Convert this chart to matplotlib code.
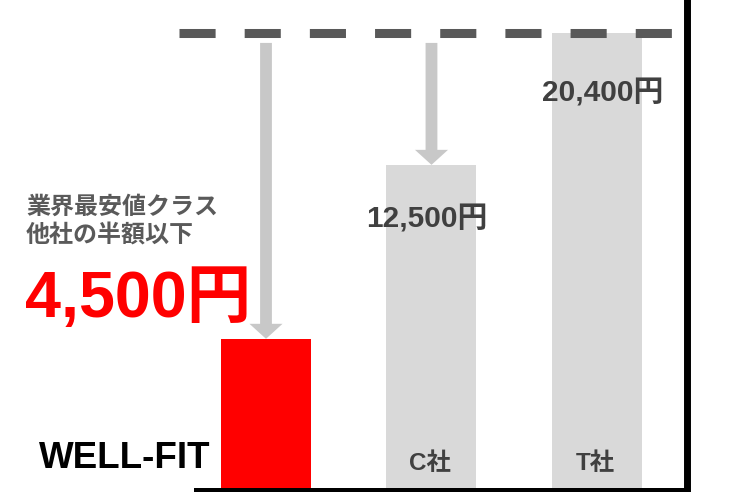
import matplotlib.pyplot as plt

# values (bars are drawn as % of the dashed reference line, not to price scale)
companies = ["WELL-FIT", "C社", "T社"]
price_labels = ["4,500円", "12,500円", "20,400円"]
bar_heights = [33.0, 71.1, 100.0]
reference_level = 100.0
arrow_to = [0, 1]  # bars that get an arrow from the reference line

latin_jp = ["Liberation Sans", "Noto Sans CJK JP"]
W, H = 736, 492

fig = plt.figure(figsize=(W / 100, H / 100), dpi=100)
ax = fig.add_axes([196 / W, (H - 489.5) / H, (686.5 - 196) / W, 489.5 / H])
ax.set_xlim(-0.423, 2.541)
ax.set_ylim(0, 107.2)

colors = ["#ff0000", "#d9d9d9", "#d9d9d9"]
x = list(range(len(companies)))
ax.bar(x, bar_heights, width=0.544, color=colors, zorder=1)

# dashed reference line (sticks out to the left of the axes)
ax.hlines(reference_level, -0.526, 2.46, colors="#595959", linewidth=6.5,
          linestyles=(0, (4.0, 3.22)), clip_on=False, zorder=4)

# arrows from the reference line down to the bar tops
for i in arrow_to:
    ax.annotate("", xy=(x[i], bar_heights[i]), xytext=(x[i], 97.8),
                arrowprops=dict(arrowstyle="simple,head_length=10.8,head_width=23.8,tail_width=8.5",
                                mutation_scale=1, color="#c8c8c8", lw=0,
                                shrinkA=0, shrinkB=0), zorder=3)

for s in ["left", "top"]:
    ax.spines[s].set_visible(False)
ax.spines["bottom"].set_linewidth(3.6)
ax.spines["right"].set_linewidth(5)
ax.spines["bottom"].set_zorder(5)
ax.spines["right"].set_zorder(5)
ax.set_xticks([])
ax.set_yticks([])

def px(xp, yp):
    return xp / W, 1 - yp / H

# price labels on the grey bars
fig.text(*px(427, 219), price_labels[1], family=latin_jp, weight="bold",
         fontsize=21.5, color="#404040", ha="center", va="center")
fig.text(*px(603, 93), price_labels[2], family=latin_jp, weight="bold",
         fontsize=21.5, color="#404040", ha="center", va="center")

# company names
fig.text(*px(429.5, 464), companies[1], family=latin_jp, weight="bold",
         fontsize=17.5, color="#404040", ha="center", va="center")
fig.text(*px(595.5, 464), companies[2], family=latin_jp, weight="bold",
         fontsize=17.5, color="#404040", ha="center", va="center")
fig.text(*px(39, 468), companies[0], family=latin_jp, weight="bold",
         fontsize=26.5, color="black", ha="left", va="baseline")

# left-hand callout
fig.text(*px(26, 207), "業界最安値クラス", family=["Noto Sans CJK JP"], weight="bold",
         fontsize=17.3, color="#5a5a5a", ha="left", va="center")
fig.text(*px(26, 235), "他社の半額以下", family=["Noto Sans CJK JP"], weight="bold",
         fontsize=17.3, color="#5a5a5a", ha="left", va="center")
fig.text(*px(25, 317), price_labels[0], family=latin_jp, weight="bold",
         fontsize=46.5, color="#ff0000", ha="left", va="baseline")

fig.savefig("out.png", dpi=100)
plt.close("all")
